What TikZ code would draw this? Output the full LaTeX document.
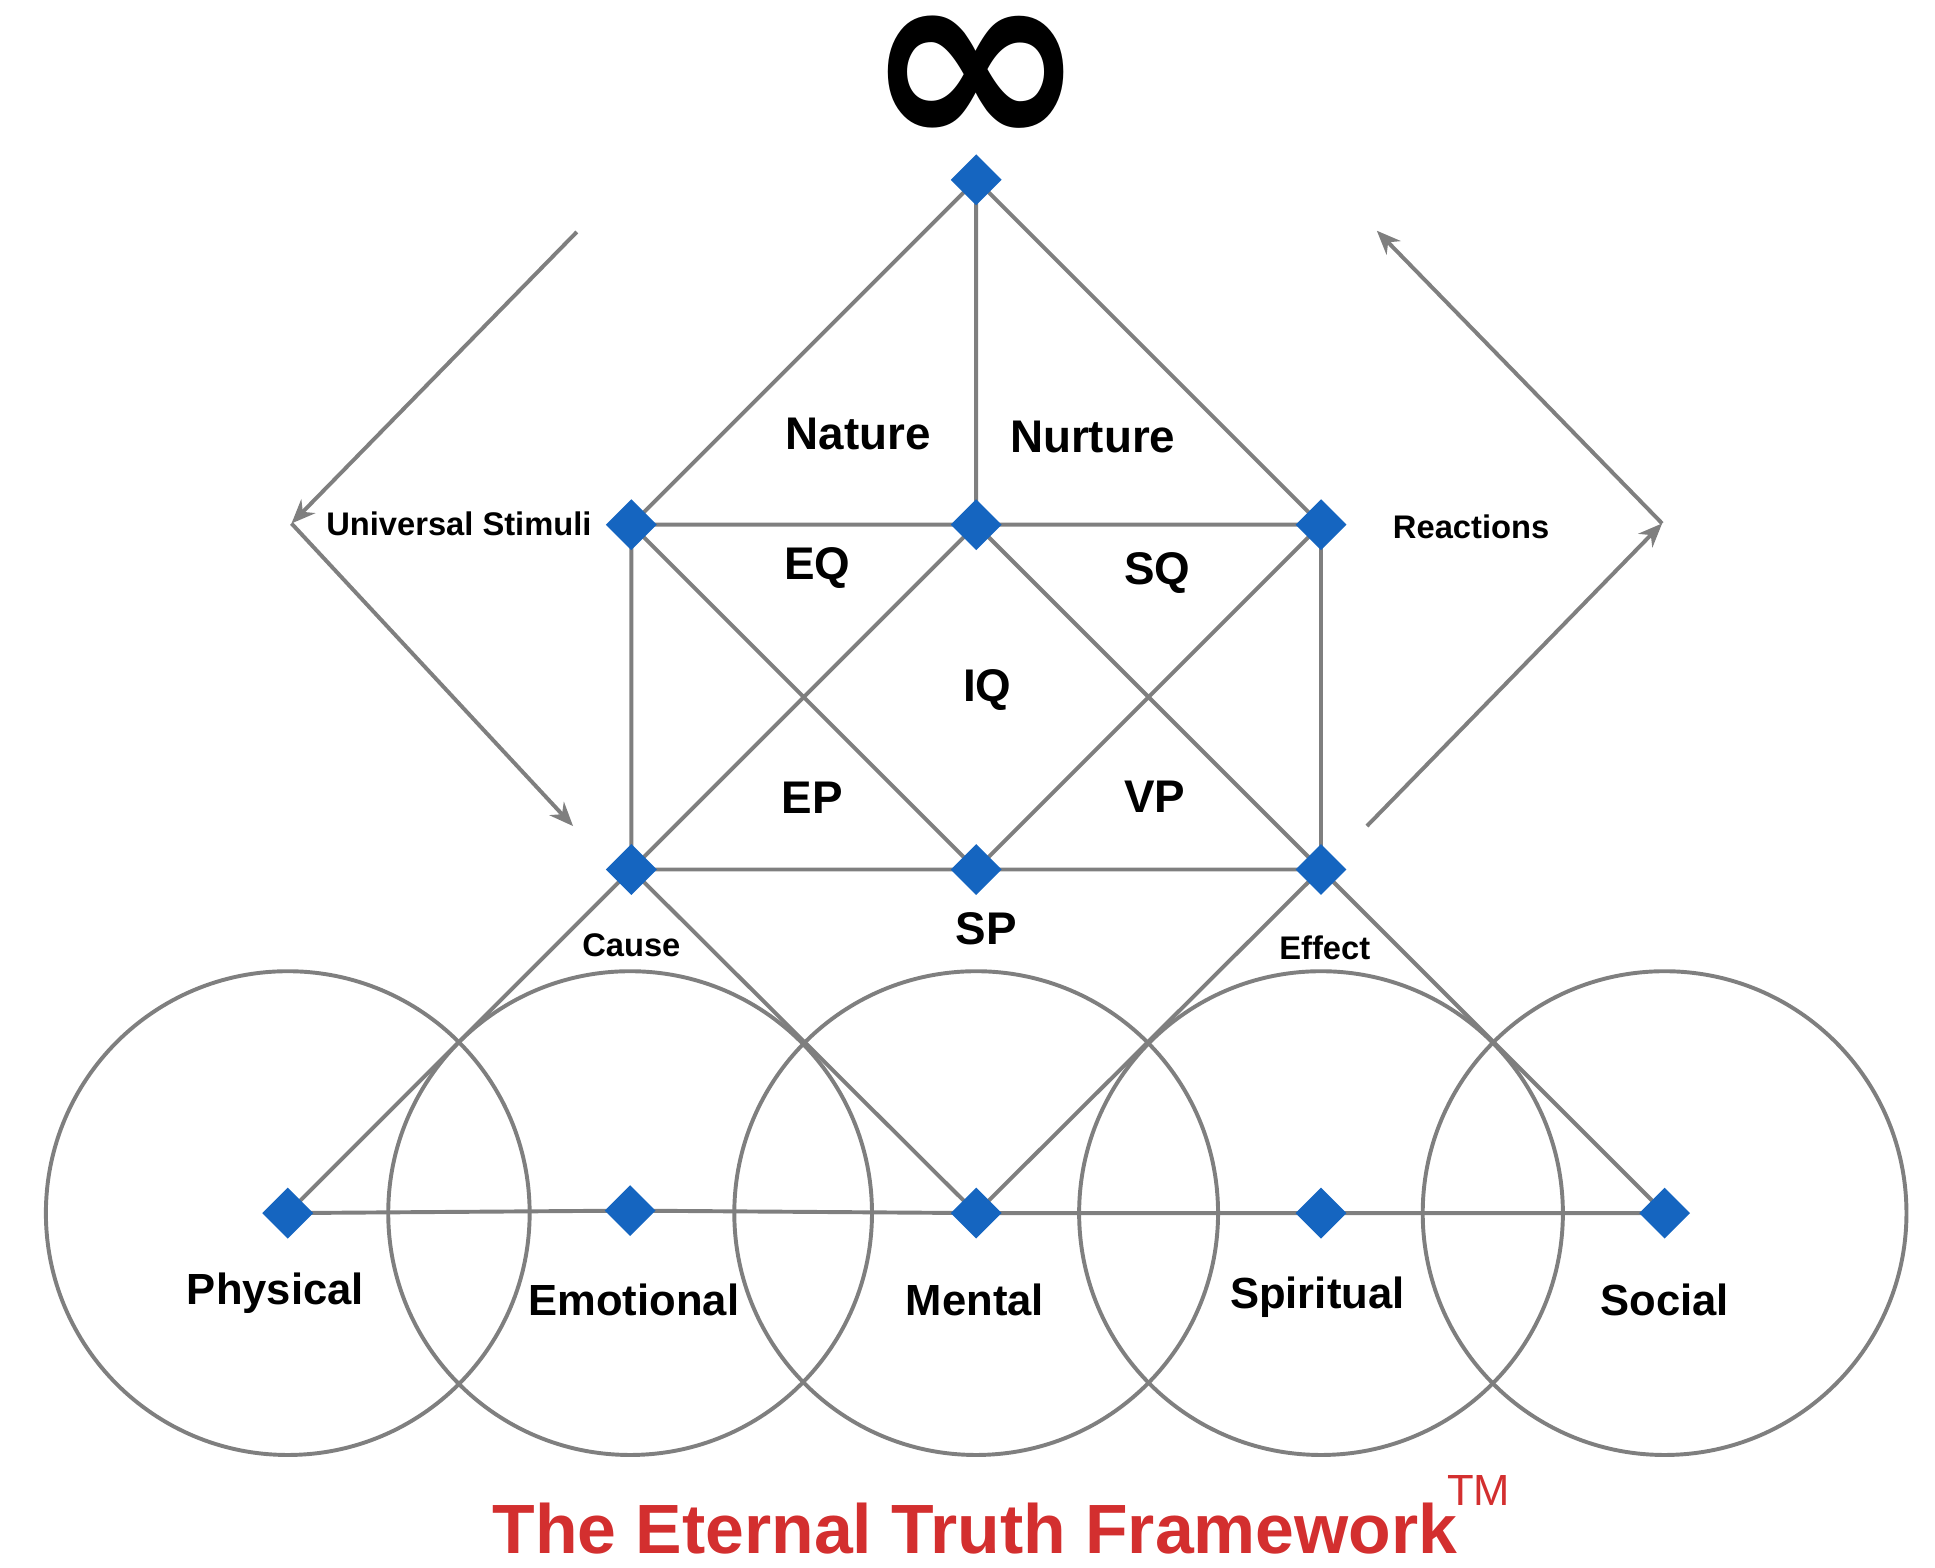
\documentclass[tikz,border=0pt]{standalone}
\usepackage{fontspec}
\setmainfont{Liberation Sans}
\newfontfamily\djv{DejaVu Sans}
\usetikzlibrary{arrows.meta}
\definecolor{ln}{HTML}{7F7F7F}
\definecolor{dm}{HTML}{1565C0}
\definecolor{tr}{HTML}{D32F2F}
\begin{document}
\begin{tikzpicture}[x=0.02cm,y=-0.02cm,
  ed/.style={draw=ln,line width=1.8pt},
  ar/.style={ed,-{Stealth[length=11pt,width=9pt]}},
  dia/.style={fill=dm,minimum size=0.58cm,inner sep=0pt,rotate=45,shape=rectangle},
  lb/.style={font=\bfseries\fontsize{21}{21}\selectfont},
  sm/.style={font=\bfseries\fontsize{15}{15}\selectfont},
  bg/.style={font=\bfseries\fontsize{20}{20}\selectfont}]
\useasboundingbox (0,0) rectangle (1560,1264);
% circles
\foreach \x/\n in {232/c1,508/c2,787/c3,1065/c4,1342/c5}
  \draw[ed] (\x,978) circle (195);
% coordinates
\coordinate (T) at (787,145);
\coordinate (A1) at (509,423); \coordinate (A2) at (787,423); \coordinate (A3) at (1065,423);
\coordinate (B1) at (509,701); \coordinate (B2) at (787,701); \coordinate (B3) at (1065,701);
\coordinate (P) at (232,978); \coordinate (E) at (508,976); \coordinate (M) at (787,978);
\coordinate (S) at (1065,978); \coordinate (O) at (1342,978);
\draw[ed] (T)--(A1) (T)--(A2) (T)--(A3) (A1)--(A3) (B1)--(B3) (A1)--(B1) (A3)--(B3)
  (A1)--(B2) (A2)--(B3) (A2)--(B1) (A3)--(B2)
  (B1)--(P) (B1)--(M) (B3)--(M) (B3)--(O) (P)--(E)--(M)--(S)--(O);
\foreach \c in {T,A1,A2,A3,B1,B2,B3,P,E,M,S,O} \node[dia] at (\c) {};
% arrows
\coordinate (L0) at (465,187); \coordinate (L1) at (235,422); \coordinate (L2) at (462,666);
\coordinate (R0) at (1102,666); \coordinate (R1) at (1340,422); \coordinate (R2) at (1110,186);
\draw[ar] (L0)--(L1); \draw[ar] (L1)--(L2);
\draw[ar] (R0)--(R1); \draw[ar] (R1)--(R2);
% labels
\node[font=\djv\bfseries\fontsize{124}{124}\selectfont] (inf) at (787,68) {∞};
\node[lb] (na) at (692,350) {Nature};
\node[lb] (nu) at (881,352) {Nurture};
\node[lb] (eq) at (659,458) {EQ};
\node[lb] (sq) at (933,462) {SQ};
\node[lb] (iq) at (796,556) {IQ};
\node[lb] (ep) at (655,643) {EP};
\node[lb] (vp) at (931,642) {VP};
\node[lb] (sp) at (795,749) {SP};
\node[sm] (us) at (370,422) {Universal Stimuli};
\node[sm] (re) at (1186,425) {Reactions};
\node[sm] (ca) at (509,762) {Cause};
\node[sm] (ef) at (1068,764) {Effect};
\node[bg] (ph) at (222,1043) {Physical};
\node[bg] (em) at (511,1048) {Emotional};
\node[bg] (me) at (786,1048) {Mental};
\node[bg] (spi) at (1062,1046) {Spiritual};
\node[bg] (so) at (1342,1048) {Social};
\node[font=\bfseries\fontsize{32}{32}\selectfont,text=tr] (ti) at (786,1232) {The Eternal Truth Framework};
\node[font=\fontsize{20}{20}\selectfont,text=tr] (tm) at (1192,1202) {TM};
\end{tikzpicture}
\end{document}
